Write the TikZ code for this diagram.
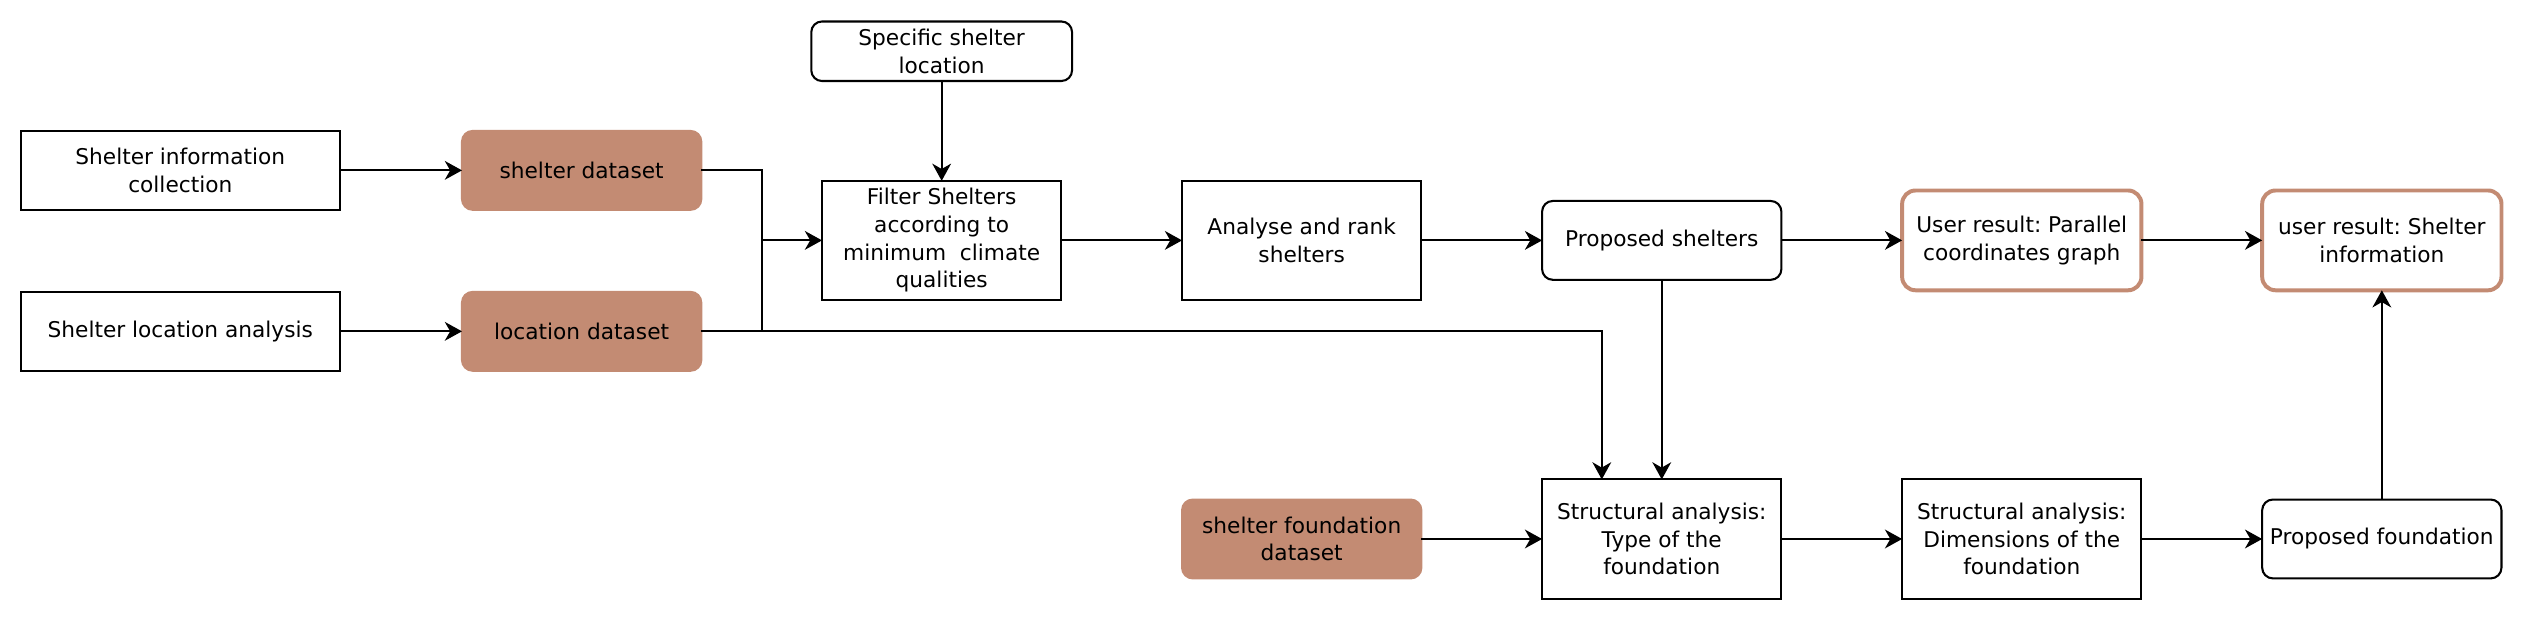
\documentclass[tikz,border=0pt]{standalone}
\usepackage{fontspec}
\setmainfont{DejaVu Sans}
\frenchspacing
\usetikzlibrary{arrows.meta,positioning}
\definecolor{clay}{RGB}{195,139,115}
\tikzset{%
  % Specifications for style of arrows:
   flow/.style={
           -{Stealth[length=3.2mm,width=3.5mm,inset=1mm]},
           line width=1.1pt,},
   feed/.style={
           line width=1.1pt,},
  % Specifications for style of nodes:
   base/.style = {rectangle, draw=black, line width=1.1pt,
                  minimum width=4.46cm, minimum height=1.47cm,
                  inner sep=1pt, outer sep=0pt, align=center,
                  font=\fontsize{11.5}{14.7}\selectfont},
   collect/.style = {base, minimum width=5.94cm},
   taskbox/.style = {base, minimum height=2.22cm},
   outcome/.style = {base, rounded corners=0.2cm},
   dataset/.style = {base, draw=clay, fill=clay, rounded corners=0.2cm},
   userresult/.style = {base, draw=clay, line width=2.1pt,
                  rounded corners=0.25cm, minimum height=1.86cm},
}
\begin{document}
\begin{tikzpicture}[node distance=2.25cm]
  \useasboundingbox (0,0) rectangle (47.04,11.59);

  % Specification of nodes (position, etc.)
  \node (info_block)	[collect] at (3.36,8.415)	{Shelter information\\collection};
  \node (locana_block)	[collect, below=1.53cm of info_block]	{Shelter location analysis};
  \node (shelterdata_block)	[dataset, right=2.28cm of info_block]	{shelter dataset};
  \node (locdata_block)	[dataset, right=2.28cm of locana_block]	{location dataset};
  \node (filter_block)	[taskbox, right=of shelterdata_block, yshift=-1.305cm]	{Filter Shelters\\according to\\minimum\ \ climate\\qualities};
  \node (spec_block)	[outcome, minimum width=4.86cm, minimum height=1.11cm, above=1.86cm of filter_block]	{Specific shelter\\location};
  \node (rank_block)	[taskbox, right=of filter_block]	{Analyse and rank\\shelters};
  \node (propshel_block)	[outcome, right=of rank_block]	{Proposed shelters};
  \node (graph_block)	[userresult, right=of propshel_block]	{User result: Parallel\\coordinates graph};
  \node (shelinfo_block)	[userresult, right=of graph_block]	{user result: Shelter\\information};

  \node (type_block)	[taskbox, below=3.72cm of propshel_block]	{Structural analysis:\\Type of the\\foundation};
  \node (founddata_block)	[dataset, left=of type_block]	{shelter foundation\\dataset};
  \node (dims_block)	[taskbox, right=of type_block]	{Structural analysis:\\Dimensions of the\\foundation};
  \node (propfound_block)	[outcome, right=of dims_block]	{Proposed foundation};
  \coordinate [left=1.125cm of filter_block.west] (merge);

  % Data inputs
	\draw[flow]	(info_block) -- (shelterdata_block);
	\draw[flow]	(locana_block) -- (locdata_block);
	\draw[feed]	(shelterdata_block.east) -| (locdata_block.east -| merge);
	\draw[flow]	(merge) -- (filter_block);
	\draw[flow]	(spec_block) -- (filter_block);
	\draw[flow]	(locdata_block.east) -| ([xshift=-1.1175cm]type_block.north);

  % Shelter selection
	\draw[flow]	(filter_block) -- (rank_block);
	\draw[flow]	(rank_block) -- (propshel_block);
	\draw[flow]	(propshel_block) -- (graph_block);
	\draw[flow]	(graph_block) -- (shelinfo_block);

  % Foundation design
	\draw[flow]	(propshel_block) -- (type_block);
	\draw[flow]	(founddata_block) -- (type_block);
	\draw[flow]	(type_block) -- (dims_block);
	\draw[flow]	(dims_block) -- (propfound_block);
	\draw[flow]	(propfound_block) -- (shelinfo_block);

  \end{tikzpicture}
\end{document}
